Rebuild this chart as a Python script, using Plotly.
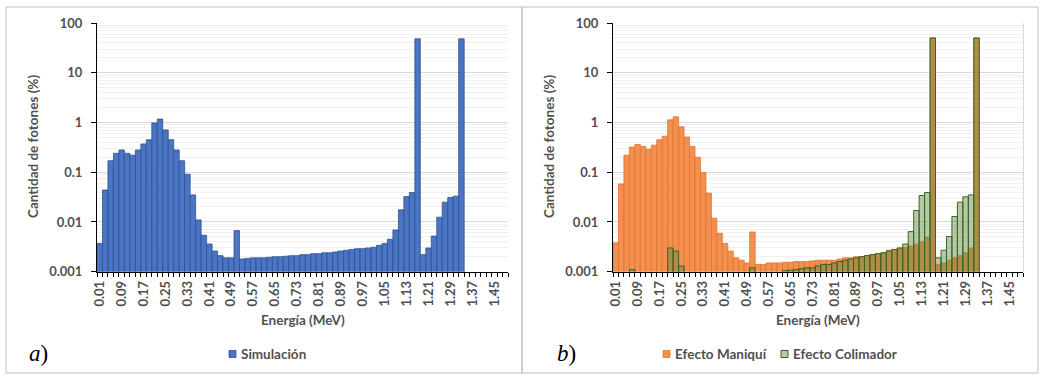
import plotly.graph_objects as go

# ---------------- data ----------------
energias = ["0.01", "0.03", "0.05", "0.07", "0.09", "0.11", "0.13", "0.15", "0.17", "0.19",
            "0.21", "0.23", "0.25", "0.27", "0.29", "0.31", "0.33", "0.35", "0.37", "0.39",
            "0.41", "0.43", "0.45", "0.47", "0.49", "0.51", "0.53", "0.55", "0.57", "0.59",
            "0.61", "0.63", "0.65", "0.67", "0.69", "0.71", "0.73", "0.75", "0.77", "0.79",
            "0.81", "0.83", "0.85", "0.87", "0.89", "0.91", "0.93", "0.95", "0.97", "0.99",
            "1.01", "1.03", "1.05", "1.07", "1.09", "1.11", "1.13", "1.15", "1.17", "1.19",
            "1.21", "1.23", "1.25", "1.27", "1.29", "1.31", "1.33", "1.35", "1.37", "1.39",
            "1.41", "1.43", "1.45", "1.47", "1.49"]

etiquetas = ["0.01", "0.09", "0.17", "0.25", "0.33", "0.41", "0.49", "0.57", "0.65", "0.73",
             "0.81", "0.89", "0.97", "1.05", "1.13", "1.21", "1.29", "1.37", "1.45"]

simulacion = [0.0037, 0.044, 0.17, 0.24, 0.28, 0.24, 0.22, 0.28, 0.37, 0.45,
              0.98, 1.17, 0.71, 0.45, 0.28, 0.17, 0.091, 0.035, 0.011, 0.0054,
              0.0036, 0.0026, 0.0021, 0.0019, 0.0019, 0.0067, 0.0018, 0.00185, 0.0019, 0.0019,
              0.0019, 0.00195, 0.002, 0.002, 0.00205, 0.0021, 0.0021, 0.0022, 0.0022, 0.0023,
              0.0023, 0.0024, 0.0024, 0.0025, 0.0026, 0.0027, 0.0028, 0.0029, 0.0029, 0.0030,
              0.0031, 0.0034, 0.0037, 0.0045, 0.0069, 0.0175, 0.0326, 0.039, 48, 0.0022,
              0.003, 0.0052, 0.0125, 0.025, 0.031, 0.033, 48, None, None, None,
              None, None, None, None, None]

maniqui = [0.0038, 0.058, 0.22, 0.32, 0.36, 0.33, 0.29, 0.35, 0.45, 0.53,
           1.13, 1.30, 0.82, 0.51, 0.33, 0.20, 0.099, 0.038, 0.0119, 0.0059,
           0.0037, 0.0026, 0.0019, 0.0017, 0.0015, 0.0063, 0.0014, 0.0014, 0.0015, 0.0015,
           0.0015, 0.00155, 0.00155, 0.0016, 0.0016, 0.0016, 0.00165, 0.0017, 0.0017, 0.0017,
           0.0017, 0.0018, 0.0019, 0.0019, 0.002, 0.002, 0.0021, 0.0022, 0.0023, 0.0024,
           0.0027, 0.0028, 0.003, 0.0031, 0.0033, 0.0036, 0.004, 0.0049, 50, 0.0014,
           0.0015, 0.0017, 0.0019, 0.0021, 0.0024, 0.0030, 50, None, None, None,
           None, None, None, None, None]

colimador = [None, None, None, 0.0011, None, None, None, None, None, None,
             0.0030, 0.0026, 0.0013, None, None, None, None, None, None, None,
             None, None, None, None, None, 0.0012, None, None, None, None,
             None, 0.00105, 0.00107, 0.0011, 0.00115, 0.0012, 0.0012, 0.0013, 0.0014, 0.0014,
             0.0015, 0.0016, 0.0017, 0.0018, 0.0019, 0.002, 0.0021, 0.0022, 0.0023, 0.0024,
             0.0026, 0.0028, 0.003, 0.0036, 0.0064, 0.017, 0.034, 0.039, 50, 0.0019,
             0.0027, 0.0051, 0.0129, 0.025, 0.032, 0.035, 50, None, None, None,
             None, None, None, None, None]

y_ticks = [0.001, 0.01, 0.1, 1, 10, 100]
y_ticktext = ["0.001", "0.01", "0.1", "1", "10", "100"]
minor_vals = [m * 10 ** e for e in range(-3, 2) for m in range(2, 10)]

# ---------------- figure ----------------
W, H = 1048, 384
def px(x):
    return x / W
def py(y):
    return 1 - y / H

BLUE = "#4A74C4"
BLUE_EDGE = "#2F528F"
ORANGE = "#F3904F"
ORANGE_EDGE = "#E2742C"
GREEN = "rgba(90,140,60,0.45)"
GREEN_EDGE = "#3B6324"
GRAY_TXT = "#505050"
FONT = "Lato"

fig = go.Figure()
fig.add_trace(go.Bar(x=energias, y=simulacion, name="Simulación",
                     marker=dict(color=BLUE, line=dict(color=BLUE_EDGE, width=0.8)),
                     xaxis="x", yaxis="y", showlegend=False))
fig.add_trace(go.Bar(x=energias, y=maniqui, name="Efecto Maniquí",
                     marker=dict(color=ORANGE, line=dict(color=ORANGE_EDGE, width=0.8)),
                     xaxis="x2", yaxis="y2", showlegend=False))
fig.add_trace(go.Bar(x=energias, y=colimador, name="Efecto Colimador",
                     marker=dict(color=GREEN, line=dict(color=GREEN_EDGE, width=1)),
                     xaxis="x2", yaxis="y2", showlegend=False))

tickfont = dict(family=FONT, size=13, color=GRAY_TXT, weight="bold")
ticktext_x = [e if e in etiquetas else "" for e in energias]

def xaxis_def(domain, anchor):
    return dict(domain=domain, anchor=anchor, type="category", automargin=False,
                categoryorder="array", categoryarray=energias,
                tickmode="array", tickvals=energias, ticktext=ticktext_x,
                tickson="boundaries", ticks="outside", ticklen=4, tickcolor="black",
                tickwidth=1, tickangle=-90, tickfont=tickfont,
                showline=True, linecolor="black", linewidth=1,
                showgrid=False, zeroline=False, range=[-0.5, 74.5],
                ticklabelstandoff=3, fixedrange=True)

def yaxis_def(anchor):
    return dict(domain=[py(271.7), py(23)], anchor=anchor, type="log", automargin=False,
                range=[-3, 2], tickmode="array", tickvals=y_ticks, ticktext=y_ticktext,
                ticks="outside", ticklen=5, tickcolor="black", tickwidth=1,
                tickfont=dict(family=FONT, size=13, color=GRAY_TXT, weight="bold"),
                showline=True, linecolor="black", linewidth=1,
                showgrid=True, gridcolor="#D9D9D9", gridwidth=1,
                minor=dict(tickmode="array", tickvals=minor_vals, showgrid=True,
                           gridcolor="#F0F0F0", gridwidth=1, ticks=""),
                zeroline=False, ticklabelstandoff=6, fixedrange=True)

fig.update_layout(
    width=W, height=H, autosize=False,
    margin=dict(l=0, r=0, t=0, b=0, pad=0, autoexpand=False),
    paper_bgcolor="white", plot_bgcolor="white",
    barmode="overlay", bargap=0,
    xaxis=xaxis_def([px(97), px(508)], "y"),
    yaxis=yaxis_def("x"),
    xaxis2=xaxis_def([px(613), px(1023)], "y2"),
    yaxis2=yaxis_def("x2"),
    showlegend=False,
)

shapes = []
shapes.append(dict(type="rect", xref="paper", yref="paper",
                   x0=px(6), x1=px(522), y0=py(373), y1=py(7),
                   line=dict(color="#BFBFBF", width=1), layer="below"))
shapes.append(dict(type="rect", xref="paper", yref="paper",
                   x0=px(522), x1=px(1038), y0=py(373), y1=py(7),
                   line=dict(color="#BFBFBF", width=1), layer="below"))
shapes.append(dict(type="line", xref="paper", yref="paper",
                   x0=px(1023.5), x1=px(1023.5), y0=py(271.7), y1=py(23),
                   line=dict(color="#D9D9D9", width=1)))
LEG_Y = 354
shapes.append(dict(type="rect", xref="paper", yref="paper",
                   x0=px(229), x1=px(236), y0=py(LEG_Y + 3.5), y1=py(LEG_Y - 3.5),
                   fillcolor=BLUE, line=dict(color=BLUE_EDGE, width=0.8)))
shapes.append(dict(type="rect", xref="paper", yref="paper",
                   x0=px(663), x1=px(670), y0=py(LEG_Y + 3.5), y1=py(LEG_Y - 3.5),
                   fillcolor=ORANGE, line=dict(color=ORANGE_EDGE, width=0.8)))
shapes.append(dict(type="rect", xref="paper", yref="paper",
                   x0=px(781), x1=px(788), y0=py(LEG_Y + 3.5), y1=py(LEG_Y - 3.5),
                   fillcolor=GREEN, line=dict(color=GREEN_EDGE, width=1)))
fig.update_layout(shapes=shapes)

lab_font = dict(family=FONT, size=13.5, color=GRAY_TXT, weight="bold")
ann = []
for xc in (px(33), px(549)):
    ann.append(dict(text="Cantidad de fotones (%)", xref="paper", yref="paper",
                    x=xc, y=py(147), textangle=-90, showarrow=False, font=lab_font,
                    xanchor="center", yanchor="middle"))
for xc in (px(302.5), px(818)):
    ann.append(dict(text="Energía (MeV)", xref="paper", yref="paper",
                    x=xc, y=py(320), showarrow=False, font=lab_font,
                    xanchor="center", yanchor="middle"))
ann.append(dict(text="Simulación", xref="paper", yref="paper", x=px(239), y=py(LEG_Y),
                showarrow=False, font=lab_font, xanchor="left", yanchor="middle"))
ann.append(dict(text="Efecto Maniquí", xref="paper", yref="paper", x=px(673), y=py(LEG_Y),
                showarrow=False, font=lab_font, xanchor="left", yanchor="middle"))
ann.append(dict(text="Efecto Colimador", xref="paper", yref="paper", x=px(791), y=py(LEG_Y),
                showarrow=False, font=lab_font, xanchor="left", yanchor="middle"))
ann.append(dict(text="<i>a</i>)", xref="paper", yref="paper", x=px(38), y=py(353),
                showarrow=False, font=dict(family="Liberation Serif", size=23, color="black"),
                xanchor="center", yanchor="middle"))
ann.append(dict(text="<i>b</i>)", xref="paper", yref="paper", x=px(566), y=py(353),
                showarrow=False, font=dict(family="Liberation Serif", size=23, color="black"),
                xanchor="center", yanchor="middle"))
fig.update_layout(annotations=ann)

fig.write_html("out.html", config={"displayModeBar": False, "staticPlot": True},
               post_script="document.body.style.margin='0';document.body.style.padding='0';")
